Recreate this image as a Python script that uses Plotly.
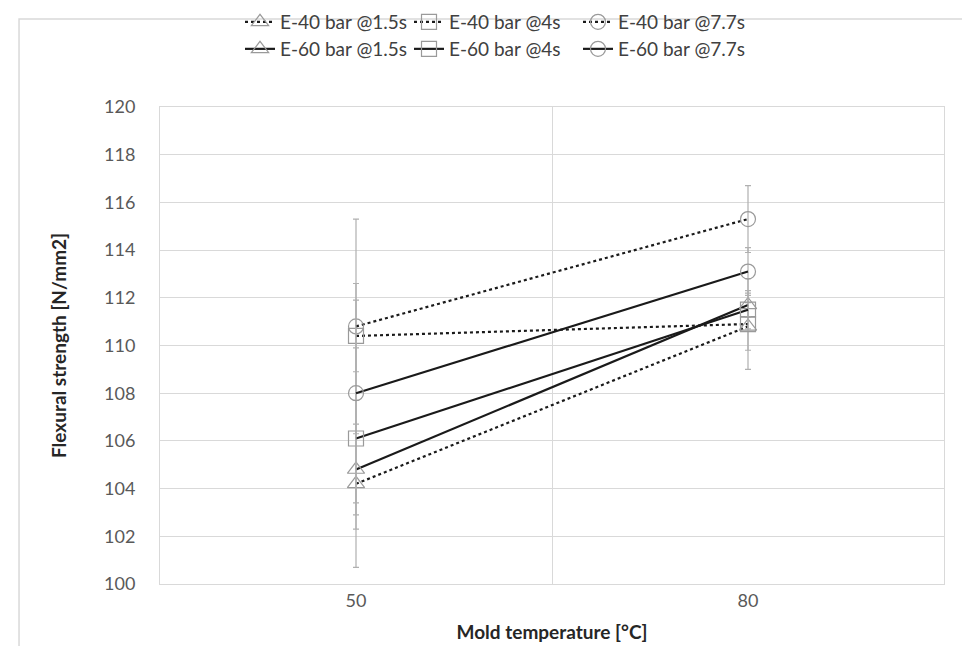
import plotly.graph_objects as go

temps = ["50", "80"]
names = ["E-40 bar @1.5s", "E-40 bar @4s", "E-40 bar @7.7s",
         "E-60 bar @1.5s", "E-60 bar @4s", "E-60 bar @7.7s"]
e40_15 = [104.2, 110.8]
e40_4 = [110.4, 110.9]
e40_77 = [110.8, 115.3]
e60_15 = [104.8, 111.7]
e60_4 = [106.1, 111.5]
e60_77 = [108.0, 113.1]
err_e40_15 = [3.5, 1.0]
err_e40_4 = [1.5, 1.9]
err_e40_77 = [4.5, 1.4]
err_e60_15 = [1.9, 0.5]
err_e60_4 = [3.8, 0.8]
err_e60_77 = [4.6, 1.0]

series = [e40_15, e40_4, e40_77, e60_15, e60_4, e60_77]
errors = [err_e40_15, err_e40_4, err_e40_77, err_e60_15, err_e60_4, err_e60_77]
symbols = ["triangle-up-open", "square-open", "circle-open"] * 2
dashes = ["dot"] * 3 + ["solid"] * 3
legends = ["legend"] * 3 + ["legend2"] * 3

fig = go.Figure()
for nm, ys, er, sym, dash, lg in zip(names, series, errors, symbols, dashes, legends):
    fig.add_trace(go.Scatter(
        x=temps, y=ys, name=nm, mode="lines+markers", legend=lg,
        line=dict(color="#1a1a1a", width=2.2, dash=dash),
        marker=dict(symbol=sym, size=15, color="#9a9a9a", line=dict(width=1.2)),
        error_y=dict(type="data", array=er, visible=True, color="#b0b0b0",
                     thickness=1.2, width=3),
    ))

font_family = "Lato, Open Sans, sans-serif"
leg_common = dict(orientation="h", xanchor="left", x=232 / 970, xref="container",
                  yanchor="middle", yref="container",
                  font=dict(size=19, color="#404040", family=font_family),
                  entrywidth=124, entrywidthmode="pixels", traceorder="normal",
                  itemwidth=30, bgcolor="rgba(0,0,0,0)")
fig.update_layout(
    width=970, height=646,
    margin=dict(l=152, r=34, t=99, b=70, autoexpand=False),
    paper_bgcolor="white", plot_bgcolor="white",
    font=dict(family=font_family, color="#595959", size=17),
    showlegend=True,
    legend=dict(leg_common, y=1 - 14 / 646),
    legend2=dict(leg_common, y=1 - 41 / 646),
    xaxis=dict(type="category", range=[-0.5, 1.5], tickson="boundaries",
               automargin=False,
               showgrid=True, gridcolor="#d9d9d9", gridwidth=1,
               showline=True, linecolor="#d9d9d9", mirror=True,
               ticks="", tickfont=dict(size=18, color="#595959"),
               title=dict(text="<b>Mold temperature [°C]</b>", standoff=16,
                          font=dict(size=19, color="#262626"))),
    yaxis=dict(range=[100, 120], dtick=2, showgrid=True, gridcolor="#d9d9d9",
               automargin=False,
               showline=True, linecolor="#d9d9d9", mirror=True, zeroline=False,
               ticks="", tickfont=dict(size=18, color="#595959"), ticklabelstandoff=20,
               title=dict(text="<b>Flexural strength [N/mm2]</b>", standoff=32,
                          font=dict(size=19, color="#262626"))),
    shapes=[dict(type="rect", xref="paper", yref="paper",
                 x0=-0.1798, x1=1.033, y0=-0.2, y1=1.1845,
                 line=dict(color="#d9d9d9", width=1.5), layer="below")],
)

fig.write_html("out.html")
